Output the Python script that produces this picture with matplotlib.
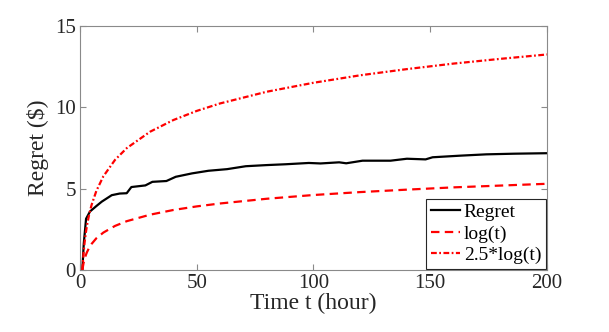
import numpy as np
import matplotlib
matplotlib.use('Agg')
import matplotlib.pyplot as plt

# regret curve
t_regret = [1, 1.6, 2.6, 4.3, 7, 9.3, 13.6, 17, 20, 22, 28, 31, 37, 41, 48, 55, 63, 71,
            80, 88, 98, 103, 111, 114, 121, 133, 140, 148, 151, 163, 174, 186, 200]
regret = [0, 1.6, 3.15, 3.6, 3.93, 4.2, 4.6, 4.7, 4.72, 5.1, 5.2, 5.42, 5.47, 5.73, 5.94, 6.1,
          6.2, 6.38, 6.45, 6.5, 6.58, 6.55, 6.62, 6.56, 6.72, 6.72, 6.84, 6.8, 6.93, 7.03,
          7.11, 7.15, 7.18]

# reference bounds
t_ref = [1, 1.5, 2, 2.5, 3, 4, 5, 7, 10, 15, 20, 30, 40, 50, 60, 80, 100, 120, 140, 160, 180, 200]
log_t = [0, 0.41, 0.69, 0.92, 1.10, 1.39, 1.61, 1.95, 2.30, 2.71, 3.00, 3.40, 3.69, 3.91,
         4.09, 4.38, 4.61, 4.79, 4.94, 5.08, 5.19, 5.30]
log_t25 = [0, 1.01, 1.73, 2.29, 2.75, 3.47, 4.02, 4.86, 5.76, 6.77, 7.49, 8.50, 9.22, 9.78,
           10.24, 10.96, 11.51, 11.97, 12.35, 12.69, 12.98, 13.25]

plt.rcParams['font.family'] = ['Liberation Serif', 'DejaVu Serif']

fig = plt.figure(figsize=(6.09, 3.32), dpi=100)
ax = fig.add_axes([80/609, 62/332, 467/609, 244/332])

ax.plot(t_regret, regret, color='k', lw=1.6, label='Regret')
ax.plot(t_ref, log_t, color='r', lw=1.6, ls=(0, (3.8, 2.4)), label='log(t)')
ax.plot(t_ref, log_t25, color='r', lw=1.6, ls=(0, (2.6, 1.1, 0.8, 1.1)), label='2.5*log(t)')

ax.set_xlim(0, 200)
ax.set_ylim(0, 15)
ax.set_xticks([0, 50, 100, 150, 200])
ax.set_yticks([0, 5, 10, 15])
for s in ax.spines.values():
    s.set_color('#8a8a8a')
    s.set_linewidth(0.8)
ax.tick_params(direction='in', length=4, width=0.8, color='#8a8a8a',
               labelsize=15, labelcolor='#262626', top=True, right=True, pad=3)
ax.set_xlabel('Time t (hour)', fontsize=17, color='#262626', labelpad=0)
ax.set_ylabel('Regret ($)', fontsize=17, color='#262626', labelpad=4)

leg = ax.legend(loc='lower right', fontsize=14, fancybox=False, framealpha=1,
                edgecolor='#262626', borderpad=0.25, handlelength=1.5,
                handletextpad=0.2, labelspacing=0.2, borderaxespad=0.05)
leg.get_frame().set_linewidth(0.8)

fig.savefig('out.png', dpi=100)
